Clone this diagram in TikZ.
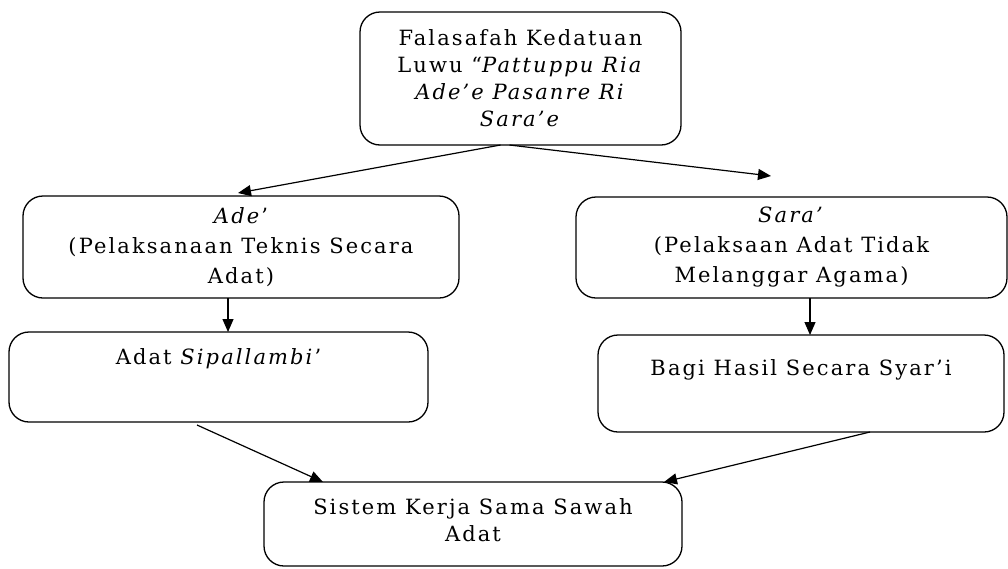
\documentclass[tikz,border=0pt]{standalone}
\usepackage{fontspec}
\setmainfont{DejaVu Serif}[LetterSpace=10]
\usetikzlibrary{arrows.meta}

\tikzset{
  box/.style={draw, line width=1.3pt, rounded corners=20pt, inner sep=0pt, outer sep=0pt,
    align=center, font=\fontsize{21}{27}\selectfont},
  arr/.style={-{Triangle[length=13pt,width=11pt]}, line width=1.2pt}
}

\begin{document}
\begin{tikzpicture}[x=1pt, y=-1pt]
        \useasboundingbox (0,0) rectangle (1008,568);

        % Nodes
        \node[box, minimum width=321pt, minimum height=133pt] (falsafah) at (520.5,78.5)
          {Falasafah Kedatuan\\ Luwu “\textit{Pattuppu Ria}\\ \textit{Ade’e Pasanre Ri}\\ \textit{Sara’e}};
        \node[box, minimum width=436pt, minimum height=102pt] (ade) at (241,247)
          {\textit{Ade}’\\[3pt] (Pelaksanaan Teknis Secara\\[3pt] Adat)};
        \node[box, minimum width=431pt, minimum height=101pt] (sara) at (791.5,247.5)
          {\textit{Sara’}\\[3pt] (Pelaksaan Adat Tidak\\[3pt] Melanggar Agama)};
        \node[box, minimum width=419pt, minimum height=90pt] (sipallambi) at (218.5,377)
          {Adat \textit{Sipallambi}’\\[13pt]\mbox{}};
        \node[box, minimum width=406pt, minimum height=97pt] (syari) at (801,383.5)
          {Bagi Hasil Secara Syar’i\\[5pt]\mbox{}};
        \node[box, minimum width=418pt, minimum height=84pt] (sistem) at (473,524)
          {Sistem Kerja Sama Sawah\\ Adat\\[-20pt]\mbox{}};
        \coordinate (saraend) at (771,176);

        % Arrows
        \draw[arr] ([xshift=-20pt]falsafah.south) -- ([xshift=-3pt,yshift=3pt]ade.north);
        \draw[arr] ([xshift=-11pt]falsafah.south) -- (saraend);
        \draw[arr] ([xshift=-13pt]ade.south) -- ([xshift=-13pt]ade.south |- sipallambi.north);
        \draw[arr] ([xshift=18.5pt]sara.south) -- ([xshift=18.5pt]sara.south |- syari.north);
        \draw[arr] ([xshift=-21.5pt,yshift=-3pt]sipallambi.south) -- ([xshift=-150pt]sistem.north);
        \draw[arr] ([xshift=69pt]syari.south) -- ([xshift=191pt]sistem.north);
    \end{tikzpicture}
\end{document}
